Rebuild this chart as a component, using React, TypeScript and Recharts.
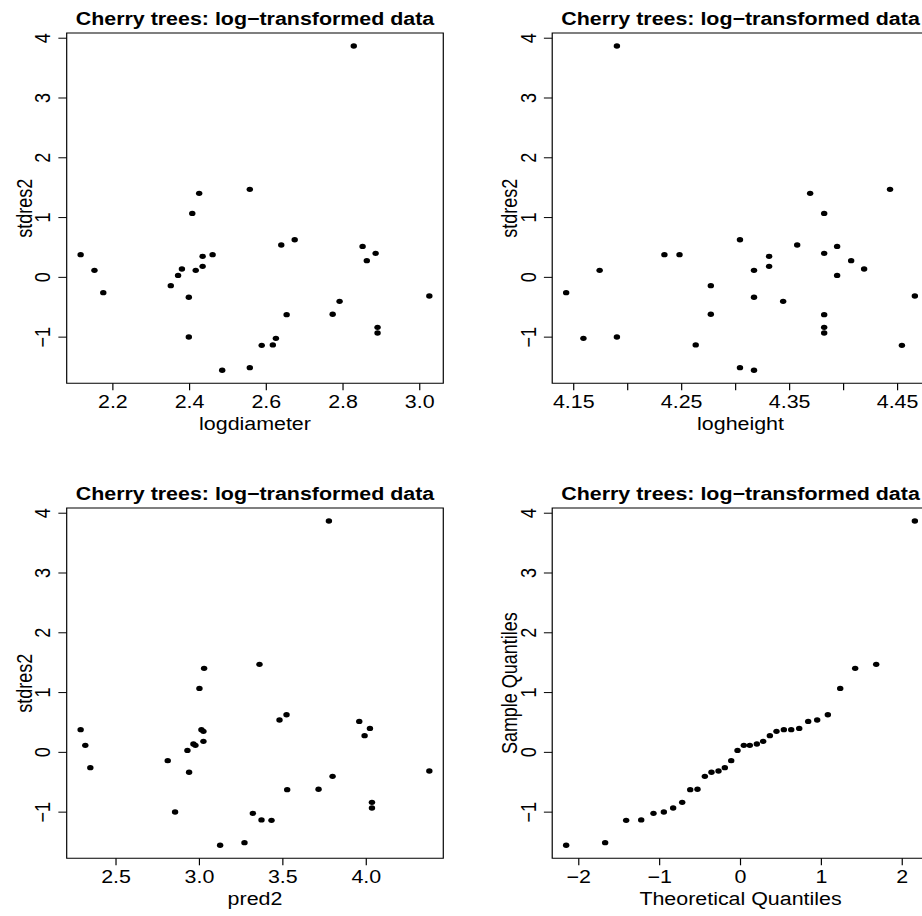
import { ScatterChart, Scatter, XAxis, YAxis, ReferenceArea } from 'recharts'

// 32 cherry trees (one added outlier)
const logdiameter = [
  2.116, 2.152, 2.175, 2.351, 2.370, 2.380, 2.398, 2.398, 2.407, 2.416, 2.425, 2.434, 2.434, 2.460, 2.485, 2.557,
  2.557, 2.588, 2.617, 2.625, 2.639, 2.653, 2.674, 2.773, 2.791, 2.828, 2.851, 2.862, 2.885, 2.890, 2.890, 3.025,
]
const logheight = [
  4.248, 4.174, 4.143, 4.277, 4.394, 4.419, 4.190, 4.317, 4.382, 4.317, 4.369, 4.331, 4.331, 4.234, 4.317, 4.304,
  4.443, 4.454, 4.263, 4.159, 4.357, 4.382, 4.304, 4.277, 4.344, 4.190, 4.394, 4.407, 4.382, 4.382, 4.382, 4.466,
]
const pred2 = [
  2.288, 2.316, 2.346, 2.810, 2.928, 2.964, 2.854, 2.938, 3.000, 2.976, 3.028, 3.024, 3.024, 3.012, 3.124, 3.270,
  3.360, 3.432, 3.372, 3.320, 3.480, 3.526, 3.522, 3.714, 3.798, 3.776, 3.958, 3.990, 4.022, 4.034, 4.034, 4.378,
]
const stdres2 = [
  0.380, 0.117, -0.256, -0.139, 0.033, 0.140, -0.997, -0.334, 1.070, 0.117, 1.405, 0.184, 0.351, 0.380, -1.555, -1.510,
  1.472, -1.137, -1.130, -1.020, 0.540, -0.624, 0.630, -0.618, -0.401, 3.870, 0.518, 0.279, 0.401, -0.836, -0.930, -0.311,
]
const theoretical = [
  -2.156, -1.674, -1.414, -1.228, -1.076, -0.948, -0.833, -0.721, -0.622, -0.532, -0.441, -0.359, -0.272, -0.194, -0.115, -0.037,
  0.041, 0.115, 0.202, 0.280, 0.363, 0.445, 0.536, 0.627, 0.726, 0.837, 0.948, 1.080, 1.233, 1.418, 1.678, 2.156,
]
const sampleQuantiles = [...stdres2].sort((a, b) => a - b)

const residTicks = [-1, 0, 1, 2, 3, 4]
const diameterTicks = [2.2, 2.4, 2.6, 2.8, 3.0]
const heightTicks = [4.15, 4.2, 4.25, 4.3, 4.35, 4.4, 4.45]
const heightTickLabels = ['4.15', '', '4.25', '', '4.35', '', '4.45']
const predTicks = [2.5, 3.0, 3.5, 4.0]
const quantileTicks = [-2, -1, 0, 1, 2]

const TITLE = 'Cherry trees: log\u2212transformed data'
const FONT = '"Liberation Sans", Arial, Helvetica, sans-serif'

// the reference is stretched horizontally, so everything is drawn narrower and scaled in x
const SX = 1.19
const PANEL_W = 486 / SX
const PANEL_H = 475
const M = { top: 33, left: 66.7 / SX, right: 42.7 / SX, bottom: 91.7 }

// R-style axis range: data range plus 4% each side
function pad(v: number[]): [number, number] {
  const lo = Math.min(...v), hi = Math.max(...v)
  const e = (hi - lo) * 0.04
  return [lo - e, hi + e]
}

function num(v: number, digits: number) {
  const s = Math.abs(v).toFixed(digits)
  return v < 0 ? '\u2212' + s : s
}

function XTick(props: any) {
  const { x, y, payload, fmt } = props
  return (
    <text x={x} y={y + 17.7} textAnchor="middle" fontSize={18} fontFamily={FONT} fill="#000">
      {fmt(payload.value)}
    </text>
  )
}

function YTick(props: any) {
  const { x, y, payload } = props
  const bx = x - 7
  return (
    <text x={bx} y={y} transform={`rotate(-90, ${bx}, ${y})`} textAnchor="middle" fontSize={18} fontFamily={FONT} fill="#000">
      {num(payload.value, 0)}
    </text>
  )
}

const Dot = (p: any) => <circle cx={p.cx} cy={p.cy} r={2.7} fill="#000" />

interface PanelProps {
  xs: number[]
  ys: number[]
  xTicks: number[]
  xFmt: (v: number) => string
  xTitle: string
  yTitle: string
  left: number
  top: number
}

function Panel({ xs, ys, xTicks, xFmt, xTitle, yTitle, left, top }: PanelProps) {
  const data = xs.map((x, i) => ({ x, y: ys[i] }))
  const xDom = pad(xs)
  const yDom = pad(ys)
  const cx = M.left + (PANEL_W - M.left - M.right) / 2
  const cy = M.top + (PANEL_H - M.top - M.bottom) / 2
  const yTitleX = M.left - 29.4
  return (
    <div style={{ position: 'absolute', left, top, width: PANEL_W, height: PANEL_H }}>
      <ScatterChart width={PANEL_W} height={PANEL_H} margin={{ top: M.top, right: M.right, bottom: 0, left: 0 }}>
        <XAxis
          type="number" dataKey="x" domain={xDom} allowDataOverflow ticks={xTicks} interval={0}
          height={M.bottom} axisLine={false} stroke="#000" tickLine={{ stroke: '#000' }} tickSize={7} tickMargin={0}
          tick={(p: any) => <XTick {...p} fmt={xFmt} />}
        />
        <YAxis
          type="number" dataKey="y" domain={yDom} allowDataOverflow ticks={residTicks} interval={0}
          width={M.left} axisLine={false} stroke="#000" tickLine={{ stroke: '#000' }} tickSize={7} tickMargin={0}
          tick={YTick}
        />
        <ReferenceArea x1={xDom[0]} x2={xDom[1]} y1={yDom[0]} y2={yDom[1]} fill="none" fillOpacity={0} stroke="#000" strokeWidth={1} ifOverflow="visible" />
        <Scatter data={data} isAnimationActive={false} shape={Dot} />
      </ScatterChart>
      <svg width={PANEL_W} height={PANEL_H} style={{ position: 'absolute', left: 0, top: 0, pointerEvents: 'none' }}>
        <text x={cx} y={25.5} textAnchor="middle" fontSize={18} fontWeight="bold" fontFamily={FONT} fill="#000">{TITLE}</text>
        <text x={cx} y={PANEL_H - M.bottom + 46.3} textAnchor="middle" fontSize={18} fontFamily={FONT} fill="#000">{xTitle}</text>
        <text x={yTitleX} y={cy} transform={`rotate(-90, ${yTitleX}, ${cy})`} textAnchor="middle" fontSize={18} fontFamily={FONT} fill="#000">{yTitle}</text>
      </svg>
    </div>
  )
}

export default function App() {
  return (
    <div style={{ position: 'absolute', left: 0, top: 0, width: 922, height: 916, overflow: 'hidden', background: '#fff' }}>
      <div style={{ position: 'absolute', left: 0, top: 0, width: PANEL_W * 2, height: PANEL_H * 2, transform: `scaleX(${SX})`, transformOrigin: '0 0' }}>
        <Panel xs={logdiameter} ys={stdres2} xTicks={diameterTicks} xFmt={(v) => num(v, 1)} xTitle="logdiameter" yTitle="stdres2" left={0} top={0} />
        <Panel xs={logheight} ys={stdres2} xTicks={heightTicks} xFmt={(v) => heightTickLabels[heightTicks.indexOf(v)] ?? ''} xTitle="logheight" yTitle="stdres2" left={PANEL_W} top={0} />
        <Panel xs={pred2} ys={stdres2} xTicks={predTicks} xFmt={(v) => num(v, 1)} xTitle="pred2" yTitle="stdres2" left={0} top={PANEL_H} />
        <Panel xs={theoretical} ys={sampleQuantiles} xTicks={quantileTicks} xFmt={(v) => num(v, 0)} xTitle="Theoretical Quantiles" yTitle="Sample Quantiles" left={PANEL_W} top={PANEL_H} />
      </div>
    </div>
  )
}
